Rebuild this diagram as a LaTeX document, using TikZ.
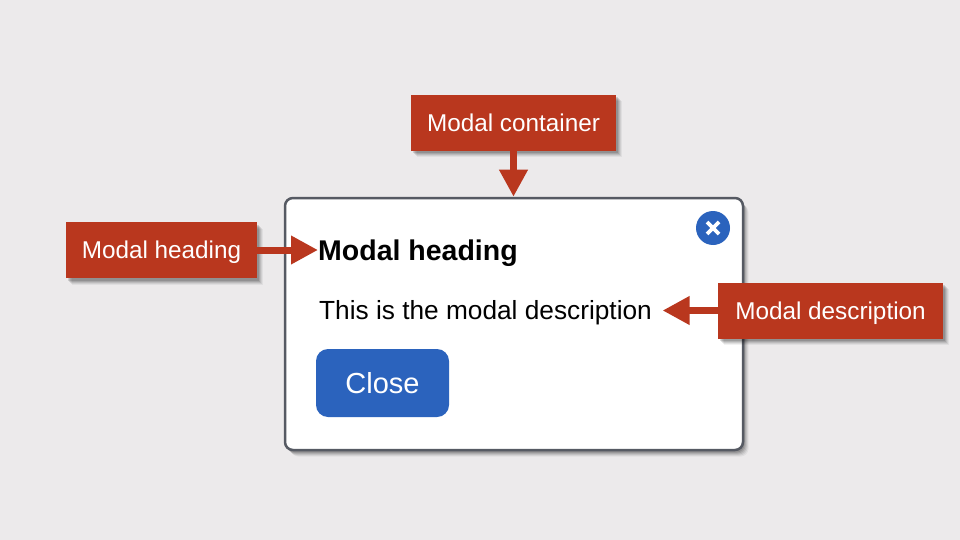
\documentclass[tikz,border=0pt]{standalone}
\usepackage{fontspec}
\setmainfont{Liberation Sans}
\usetikzlibrary{arrows.meta,positioning,shadows}

\definecolor{pagebg}{HTML}{ECEAEB}
\definecolor{calloutred}{HTML}{B9371E}
\definecolor{modalblue}{HTML}{2B63BD}
\definecolor{modaledge}{HTML}{565A63}

\tikzset{
  softshadow/.style={
    preaction={draw=none,fill=black,opacity=0.05,transform canvas={shift={(5.5pt,-6.5pt)}}},
    preaction={draw=none,fill=black,opacity=0.07,transform canvas={shift={(4.5pt,-5.5pt)}}},
    preaction={draw=none,fill=black,opacity=0.09,transform canvas={shift={(3.5pt,-4.5pt)}}},
    preaction={draw=none,fill=black,opacity=0.11,transform canvas={shift={(2.5pt,-3.5pt)}}},
    preaction={draw=none,fill=black,opacity=0.13,transform canvas={shift={(1.5pt,-2.5pt)}}}
  },
  callout/.style={fill=calloutred,text=white,minimum height=56pt,inner sep=0pt,
    text height=17pt,text depth=0pt,font=\fontsize{24.3}{24.3}\selectfont,softshadow},
  pointer/.style={calloutred,line width=7pt,-{Triangle[length=27pt,width=27pt]}},
  modaltext/.style={inner sep=0pt,anchor=base west,text=black}
}

\begin{document}
\begin{tikzpicture}[x=1pt,y=-1pt]
\fill[pagebg] (0,0) rectangle (960,540);

% Modal
\node (modal) [draw=modaledge,line width=2.5pt,fill=white,rounded corners=8pt,minimum width=458pt,minimum height=252pt,inner sep=0pt,softshadow] at (514,324) {};
\node (closeicon) [circle,fill=modalblue,minimum size=34pt,inner sep=0pt] at (713,228) {};
\draw[white,line width=3.6pt] ([shift={(-6pt,-6pt)}]closeicon.center) -- ([shift={(6pt,6pt)}]closeicon.center);
\draw[white,line width=3.6pt] ([shift={(-6pt,6pt)}]closeicon.center) -- ([shift={(6pt,-6pt)}]closeicon.center);
\node (headtext) [modaltext,font=\fontsize{28.5}{28.5}\selectfont\bfseries] at (318,260) {Modal heading};
\node (desctext) [modaltext,font=\fontsize{26.25}{26.25}\selectfont] at (319,319) {This is the modal description};
\node (closebtn) [fill=modalblue,text=white,rounded corners=12pt,minimum width=133pt,minimum height=68pt,inner sep=0pt,text height=20pt,text depth=0pt,font=\fontsize{29}{29}\selectfont] at (382.5,383) {Close};

% Callouts
\node (containerlabel) [callout,minimum width=205pt] at (513.5,123) {Modal container};
\node (headinglabel) [callout,minimum width=191pt] at (161.5,250) {Modal heading};
\node (desclabel) [callout,minimum width=225pt] at (830.5,310.5) {Modal description};

% Arrows
\draw[pointer] (containerlabel.south) -- (containerlabel.south |- modal.north);
\draw[pointer] (headinglabel.east) -- (headinglabel.east -| headtext.west);
\draw[pointer] (desclabel.west) -- ([xshift=10.5pt]desclabel.west -| desctext.east);
\end{tikzpicture}
\end{document}
